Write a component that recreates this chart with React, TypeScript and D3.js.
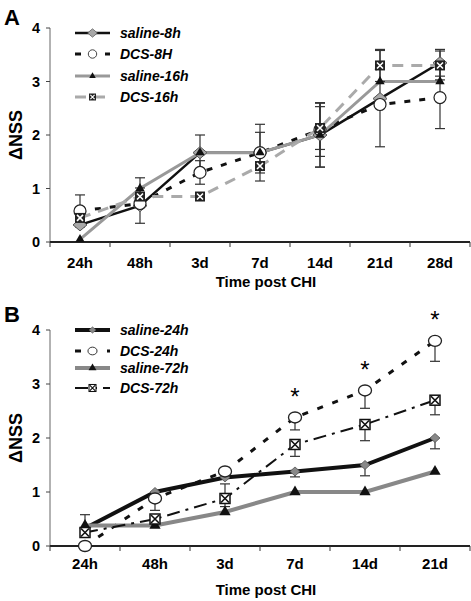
import React from "react";
import * as d3 from "d3";

// ---------- Panel A data ----------
const catsA = ["24h", "48h", "3d", "7d", "14d", "21d", "28d"];
const saline8h = [0.32, 0.68, 1.67, 1.67, 2.0, 2.68, 3.35];
const saline8hErr = [0, 0.33, 0.33, 0.53, 0.6, 0.9, 0.25];
const dcs8h = [0.58, 0.72, 1.3, 1.67, 2.1, 2.57, 2.7];
const dcs8hErr = [0.3, 0, 0.22, 0, 0.5, 0, 0.58];
const saline16h = [0.05, 1.0, 1.67, 1.67, 2.0, 3.0, 3.0];
const saline16hErr = [0, 0.2, 0, 0.38, 0.6, 0, 0];
const dcs16h = [0.45, 0.85, 0.85, 1.42, 2.13, 3.3, 3.3];
const dcs16hErr = [0, 0, 0, 0, 0.4, 0.3, 0.27];

// ---------- Panel B data ----------
const catsB = ["24h", "48h", "3d", "7d", "14d", "21d"];
const saline24h = [0.33, 1.0, 1.27, 1.38, 1.5, 2.0];
const saline24hErrLo = [0, 0, 0, 0.1, 0.2, 0.2];
const saline24hErrHi = [0.25, 0, 0, 0, 0, 0];
const dcs24h = [0.0, 0.88, 1.38, 2.38, 2.88, 3.8];
const dcs24hErrLo = [0, 0.22, 0, 0.23, 0.33, 0.38];
const saline72h = [0.38, 0.38, 0.63, 1.0, 1.0, 1.38];
const dcs72h = [0.25, 0.5, 0.88, 1.88, 2.25, 2.7];
const dcs72hErrLo = [0, 0, 0.15, 0.22, 0.3, 0.27];
const dcs72hErrHi = [0, 0, 0.27, 0, 0, 0];
const starsB = [false, false, false, true, true, true];

const yTicks = [0, 1, 2, 3, 4];
const FONT = "'Liberation Sans', Arial, Helvetica, sans-serif";

type MarkerKind = "diamond" | "circle" | "triangle" | "xsquare" | "diamondSmall" | "ellipse" | "triangleB" | "xsquareW";

interface Series {
  name: string;
  values: number[];
  errLo: number[];
  errHi: number[];
  color: string;
  width: number;
  dash?: string;
  marker: MarkerKind;
}

function MarkerShape({ kind }: { kind: MarkerKind }) {
  switch (kind) {
    case "diamond":
      return <path d="M-7,0 L0,-6 L7,0 L0,6 Z" fill="#a8a8a8" stroke="#555" strokeWidth={1} />;
    case "diamondSmall":
      return <path d="M-5,0 L0,-4.5 L5,0 L0,4.5 Z" fill="#888" stroke="#555" strokeWidth={0.8} />;
    case "circle":
      return <circle r={6} fill="#fff" stroke="#222" strokeWidth={1.2} />;
    case "ellipse":
      return <ellipse rx={6.5} ry={5.5} fill="#fff" stroke="#222" strokeWidth={1.3} />;
    case "triangle":
    case "triangleB": {
      const p = d3.symbol().type(d3.symbolTriangle).size(kind === "triangle" ? 38 : 55)();
      return <path d={p || ""} fill="#111" />;
    }
    case "xsquare":
      return (
        <g>
          <rect x={-5} y={-5} width={10} height={10} fill="#222" />
          <path d="M-3,-3 L3,3 M3,-3 L-3,3" stroke="#fff" strokeWidth={1.6} />
        </g>
      );
    case "xsquareW":
      return (
        <g>
          <rect x={-5} y={-5} width={10} height={10} fill="#fff" stroke="#111" strokeWidth={1.5} />
          <path d="M-4,-4 L4,4 M4,-4 L-4,4" stroke="#111" strokeWidth={1.6} />
        </g>
      );
  }
  return null;
}

function Marker({ kind, x, y, scale = 1 }: { kind: MarkerKind; x: number; y: number; scale?: number }) {
  return (
    <g transform={`translate(${x},${y}) scale(${scale})`}>
      <MarkerShape kind={kind} />
    </g>
  );
}

interface PanelProps {
  label: string;
  cats: string[];
  series: Series[];
  top: number;
  bottom: number;
  legendRows: number[];
  tickBaseline: number;
  titleBaseline: number;
  labelY: number;
  stars?: boolean[];
  starSeries?: number;
}

function Panel({ label, cats, series, top, bottom, legendRows, tickBaseline, titleBaseline, labelY, stars, starSeries }: PanelProps) {
  const x = d3.scaleBand<string>().domain(cats).range([50, 470]);
  const y = d3.scaleLinear().domain([0, 4]).range([bottom, top]);
  const cx = (c: string) => (x(c) as number) + x.bandwidth() / 2;
  const line = d3
    .line<number>()
    .x((_, i) => cx(cats[i]))
    .y((d) => y(d));
  const boundaries = [...cats.map((c) => x(c) as number), 470];
  const midY = (top + bottom) / 2;

  return (
    <g>
      <text x={4} y={labelY} fontFamily={FONT} fontWeight="bold" fontSize={22}>{label}</text>
      {/* y axis */}
      <line x1={50} x2={50} y1={top} y2={bottom} stroke="#666" strokeWidth={1} />
      {yTicks.map((t) => (
        <g key={t}>
          <line x1={46} x2={50} y1={y(t)} y2={y(t)} stroke="#444" strokeWidth={1} />
          <text x={40} y={y(t) + 5} textAnchor="end" fontFamily={FONT} fontWeight="bold" fontSize={14.5}>{t}</text>
        </g>
      ))}
      <text transform={`translate(22,${midY}) rotate(-90)`} textAnchor="middle" fontFamily={FONT} fontWeight="bold" fontSize={18}>ΔNSS</text>
      {/* x axis */}
      <line x1={50} x2={470} y1={bottom} y2={bottom} stroke="#222" strokeWidth={1.8} />
      {boundaries.map((b, i) => (
        <line key={i} x1={b} x2={b} y1={bottom} y2={bottom + 5} stroke="#333" strokeWidth={1} />
      ))}
      {cats.map((c) => (
        <text key={c} x={cx(c)} y={tickBaseline} textAnchor="middle" fontFamily={FONT} fontWeight="bold" fontSize={15}>{c}</text>
      ))}
      <text x={266} y={titleBaseline} textAnchor="middle" fontFamily={FONT} fontWeight="bold" fontSize={15}>Time post CHI</text>

      {/* lines */}
      {series.map((s) => (
        <path key={s.name} d={line(s.values) || ""} fill="none" stroke={s.color} strokeWidth={s.width} strokeDasharray={s.dash} />
      ))}
      {/* error bars */}
      {series.map((s) =>
        s.values.map((v, i) => {
          const lo = s.errLo[i];
          const hi = s.errHi[i];
          const px = cx(cats[i]);
          const parts: JSX.Element[] = [];
          if (lo > 0) {
            parts.push(<line key={`lo${i}`} x1={px} x2={px} y1={y(v)} y2={y(v - lo)} stroke="#333" strokeWidth={1.2} />);
            parts.push(<line key={`loc${i}`} x1={px - 5} x2={px + 5} y1={y(v - lo)} y2={y(v - lo)} stroke="#333" strokeWidth={1.2} />);
          }
          if (hi > 0) {
            parts.push(<line key={`hi${i}`} x1={px} x2={px} y1={y(v)} y2={y(v + hi)} stroke="#333" strokeWidth={1.2} />);
            parts.push(<line key={`hic${i}`} x1={px - 5} x2={px + 5} y1={y(v + hi)} y2={y(v + hi)} stroke="#333" strokeWidth={1.2} />);
          }
          return <g key={`${s.name}-e${i}`}>{parts}</g>;
        })
      )}
      {/* markers */}
      {series.map((s) =>
        s.values.map((v, i) => <Marker key={`${s.name}-m${i}`} kind={s.marker} x={cx(cats[i])} y={y(v)} />)
      )}
      {/* significance stars */}
      {stars &&
        starSeries !== undefined &&
        stars.map((st, i) =>
          st ? (
            <text key={`st${i}`} x={cx(cats[i])} y={y(series[starSeries].values[i] + 0.47) + 13} textAnchor="middle" fontFamily={FONT} fontSize={24}>*</text>
          ) : null
        )}
      {/* legend */}
      {series.map((s, i) => (
        <g key={`leg${i}`}>
          <line x1={75} x2={110} y1={legendRows[i]} y2={legendRows[i]} stroke={s.color} strokeWidth={s.width} strokeDasharray={s.dash} />
          <Marker kind={s.marker} x={92.5} y={legendRows[i]} scale={0.7} />
          <text x={120} y={legendRows[i] + 5} fontFamily={FONT} fontWeight="bold" fontStyle="italic" fontSize={14}>{s.name}</text>
        </g>
      ))}
    </g>
  );
}

export default function App() {
  const seriesA: Series[] = [
    { name: "saline-8h", values: saline8h, errLo: saline8hErr, errHi: saline8hErr, color: "#111", width: 2.5, marker: "diamond" },
    { name: "DCS-8H", values: dcs8h, errLo: dcs8hErr, errHi: dcs8hErr, color: "#111", width: 3, dash: "6 9", marker: "circle" },
    { name: "saline-16h", values: saline16h, errLo: saline16hErr, errHi: saline16hErr, color: "#999", width: 3, marker: "triangle" },
    { name: "DCS-16h", values: dcs16h, errLo: dcs16hErr, errHi: dcs16hErr, color: "#aaa", width: 3, dash: "11 8", marker: "xsquare" },
  ];
  const zeros = catsB.map(() => 0);
  const seriesB: Series[] = [
    { name: "saline-24h", values: saline24h, errLo: saline24hErrLo, errHi: saline24hErrHi, color: "#111", width: 4, marker: "diamondSmall" },
    { name: "DCS-24h", values: dcs24h, errLo: dcs24hErrLo, errHi: zeros, color: "#111", width: 3, dash: "6 10", marker: "ellipse" },
    { name: "saline-72h", values: saline72h, errLo: zeros, errHi: zeros, color: "#888", width: 4, marker: "triangleB" },
    { name: "DCS-72h", values: dcs72h, errLo: dcs72hErrLo, errHi: dcs72hErrHi, color: "#111", width: 2, dash: "13 6 3 6", marker: "xsquareW" },
  ];
  return (
    <svg width={471} height={601} style={{ position: "absolute", left: 0, top: 0, background: "#fff" }}>
      <rect width={471} height={601} fill="#fff" />
      <Panel label="A" cats={catsA} series={seriesA} top={28} bottom={242} legendRows={[33, 54, 76, 97]} tickBaseline={268} titleBaseline={287} labelY={25} />
      <Panel label="B" cats={catsB} series={seriesB} top={330} bottom={546} legendRows={[330, 351, 368, 388]} tickBaseline={569} titleBaseline={595} labelY={322} stars={starsB} starSeries={1} />
    </svg>
  );
}
